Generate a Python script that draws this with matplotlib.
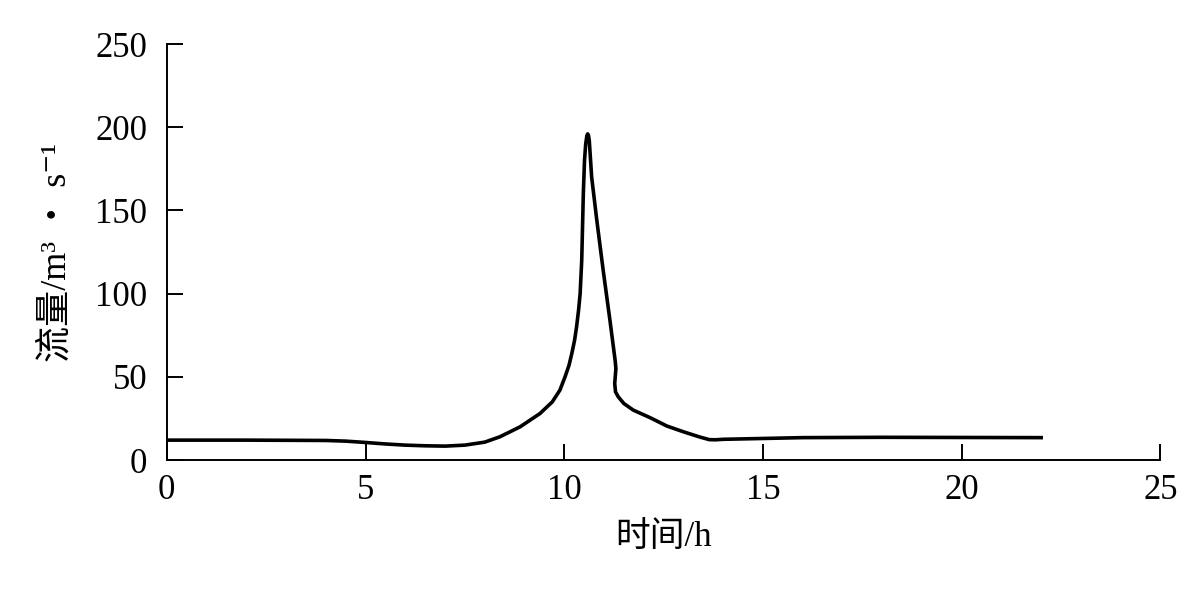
import matplotlib.pyplot as plt

plt.rcParams['font.family'] = ['Liberation Serif', 'Noto Sans CJK SC', 'DejaVu Serif']

# 时间 (h) 与 流量 (m3/s)
time_h = [0, 2, 4, 4.5, 5, 5.5, 6, 6.5, 7, 7.5, 8, 8.38, 8.89, 9.39, 9.7, 9.89,
          10.02, 10.12, 10.19, 10.26, 10.31, 10.36, 10.40, 10.44, 10.46, 10.48,
          10.51, 10.54, 10.57, 10.59, 10.61,
          10.63, 10.69, 10.82, 10.98, 11.15, 11.28, 11.30, 11.27, 11.29, 11.36,
          11.5, 11.74, 12.16, 12.58, 13.0, 13.42, 13.65, 13.8, 14, 15, 16, 18, 20, 22]
flow = [12, 12, 11.8, 11.4, 10.6, 9.7, 9.0, 8.6, 8.4, 9.0, 10.8, 14, 20, 28, 35, 42,
        50, 57, 64, 72, 80, 90, 100, 120, 140, 160,
        180, 190, 195, 196, 195,
        192, 170, 144, 114, 84, 60, 55, 46, 41, 38,
        34, 30, 25.5, 20.5, 17, 13.8, 12.3, 12.2, 12.5, 13, 13.5, 13.7, 13.6, 13.5]

xticks = [0, 5, 10, 15, 20, 25]
yticks = [0, 50, 100, 150, 200, 250]

fig = plt.figure(figsize=(12, 6.07), dpi=100)
ax = fig.add_axes([0.139, 0.242, 0.828, 0.6855])

ax.plot(time_h, flow, color='black', linewidth=2.6, solid_joinstyle='round')

ax.set_xlim(0, 25)
ax.set_ylim(0, 250)
ax.set_xticks(xticks)
ax.set_yticks(yticks)

for s in ['top', 'right']:
    ax.spines[s].set_visible(False)
for s in ['left', 'bottom']:
    ax.spines[s].set_linewidth(1.4)

ax.tick_params(direction='in', length=11.5, width=1.4, labelsize=25)
ax.tick_params(axis='x', pad=10)
ax.tick_params(axis='y', pad=14)

ax.set_xlabel('时间/h', fontsize=25, labelpad=10)
ax.set_ylabel('流量/m³ ・ s⁻¹', fontsize=26, labelpad=16)

fig.savefig('out.png', dpi=100)
